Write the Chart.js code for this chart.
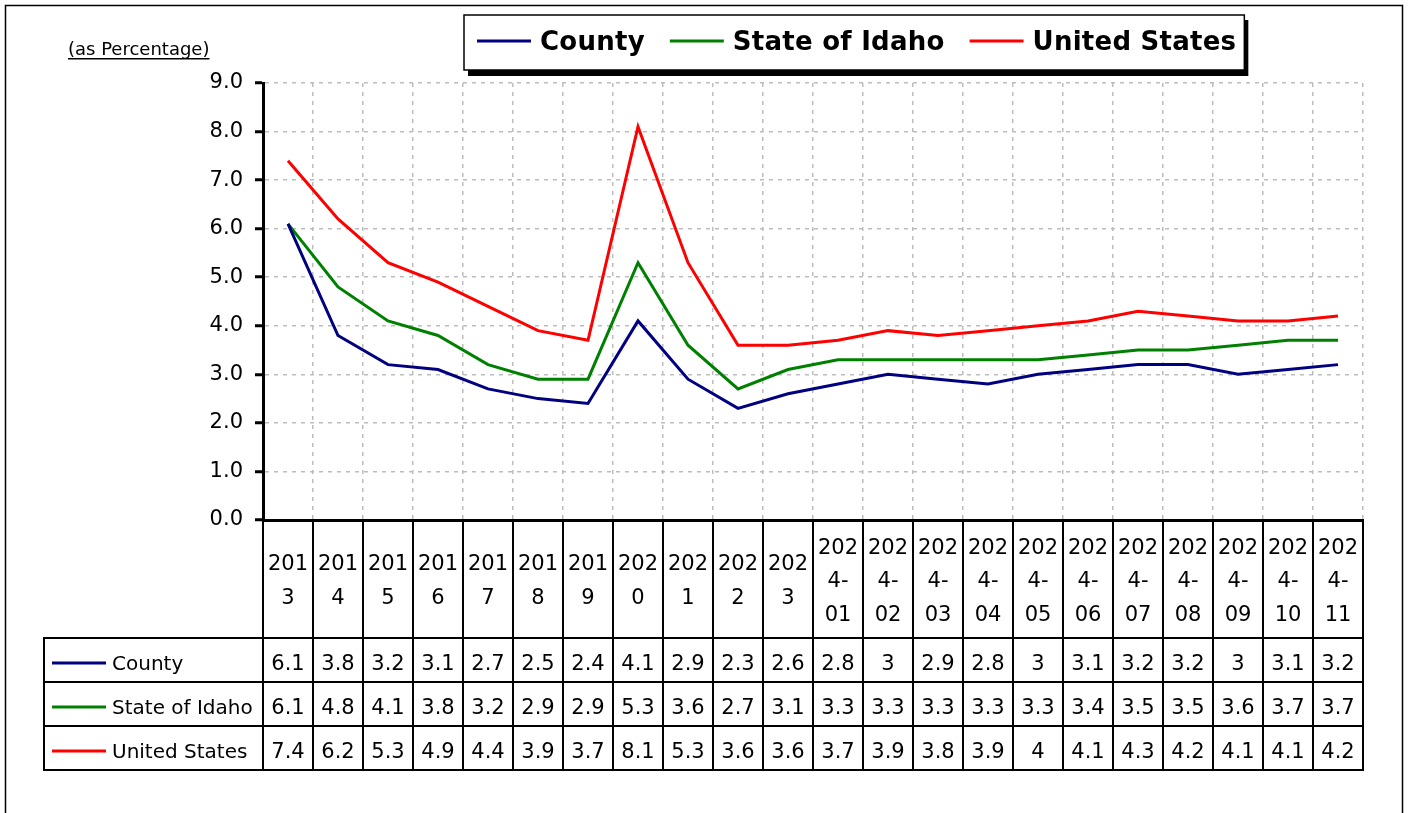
<!DOCTYPE html>
<html><head><meta charset="utf-8">
<script src="https://cdn.jsdelivr.net/npm/chart.js@4"></script>
<style>html,body{margin:0;padding:0;background:#fff}#wrap{width:1411px;height:813px;position:relative}</style>
</head><body><div id="wrap"><canvas id="c" width="1411" height="813"></canvas></div>
<script>
const categories = ["2013","2014","2015","2016","2017","2018","2019","2020","2021","2022","2023",
  "2024-01","2024-02","2024-03","2024-04","2024-05","2024-06","2024-07","2024-08","2024-09","2024-10","2024-11"];
const countyValues = [6.1,3.8,3.2,3.1,2.7,2.5,2.4,4.1,2.9,2.3,2.6,2.8,3,2.9,2.8,3,3.1,3.2,3.2,3,3.1,3.2];
const idahoValues  = [6.1,4.8,4.1,3.8,3.2,2.9,2.9,5.3,3.6,2.7,3.1,3.3,3.3,3.3,3.3,3.3,3.4,3.5,3.5,3.6,3.7,3.7];
const usValues     = [7.4,6.2,5.3,4.9,4.4,3.9,3.7,8.1,5.3,3.6,3.6,3.7,3.9,3.8,3.9,4,4.1,4.3,4.2,4.1,4.1,4.2];
const seriesNames  = ["County","State of Idaho","United States"];
const seriesColors = ["#000080","#008000","#FF0000"];
const yMin = 0, yMax = 9, yStep = 1;
const yTitle = "(as Percentage)";

const FONT = "'DejaVu Sans', 'Liberation Sans', sans-serif";

function wrapLabel(c) {
  const parts = [c.slice(0, 3)];
  const rest = c.slice(3);
  const k = rest.indexOf('-');
  if (k >= 0) { parts.push(rest.slice(0, k + 1)); parts.push(rest.slice(k + 1)); }
  else if (rest) parts.push(rest);
  return parts;
}

const decorPlugin = {
  id: 'decor',
  beforeDraw(chart) {
    const ctx = chart.ctx;
    ctx.save();
    ctx.fillStyle = '#fff';
    ctx.fillRect(0, 0, chart.width, chart.height);
    ctx.strokeStyle = '#000';
    ctx.lineWidth = 1.5;
    ctx.strokeRect(5.5, 5.5, 1397, 900);
    ctx.restore();
  },
  afterDraw(chart) {
    const ctx = chart.ctx;
    const xs = chart.scales.x;
    const area = chart.chartArea;
    const n = categories.length;
    const w = xs.getPixelForValue(1) - xs.getPixelForValue(0);
    const left = xs.getPixelForValue(0) - w / 2;
    const right = left + n * w;
    const top = area.bottom;
    const headBottom = top + 118;
    const rowH = 44;
    const tableLeft = 44;
    const bottom = headBottom + rowH * 3;
    ctx.save();

    // y title
    ctx.fillStyle = '#000';
    ctx.font = '18px ' + FONT;
    ctx.textAlign = 'left';
    ctx.textBaseline = 'alphabetic';
    ctx.fillText(yTitle, 68, 55);
    const tw = ctx.measureText(yTitle).width;
    ctx.fillRect(68, 58, tw, 1.5);

    // legend box
    ctx.font = 'bold 26px ' + FONT;
    ctx.letterSpacing = '0.25px';
    let lx = 477;
    const items = chart.data.datasets.map(ds => {
      const it = { x: lx, label: ds.label, color: ds.borderColor, tw: ctx.measureText(ds.label).width };
      lx += 54 + 9 + it.tw + 25;
      return it;
    });
    const boxL = 464, boxT = 15, boxR = lx - 25 + 8, boxB = 70;
    ctx.fillStyle = '#000';
    ctx.fillRect(boxL + 4, boxT + 5, boxR - boxL, boxB - boxT + 1);
    ctx.fillStyle = '#fff';
    ctx.fillRect(boxL, boxT, boxR - boxL, boxB - boxT);
    ctx.strokeStyle = '#000';
    ctx.lineWidth = 1.5;
    ctx.strokeRect(boxL, boxT, boxR - boxL, boxB - boxT);
    items.forEach(it => {
      ctx.strokeStyle = it.color;
      ctx.lineWidth = 3;
      ctx.beginPath(); ctx.moveTo(it.x, 41); ctx.lineTo(it.x + 54, 41); ctx.stroke();
      ctx.fillStyle = '#000';
      ctx.textAlign = 'left';
      ctx.fillText(it.label, it.x + 63, 50);
    });
    ctx.letterSpacing = '0px';

    // table grid
    ctx.strokeStyle = '#000';
    ctx.lineWidth = 2;
    ctx.beginPath();
    for (let i = 0; i <= n; i++) {
      const x = Math.round(left + i * w);
      ctx.moveTo(x, top); ctx.lineTo(x, bottom);
    }
    ctx.moveTo(tableLeft, headBottom); ctx.lineTo(tableLeft, bottom);
    for (let r = 0; r <= 3; r++) {
      const y = headBottom + r * rowH;
      ctx.moveTo(tableLeft - 1, y); ctx.lineTo(right + 1, y);
    }
    ctx.moveTo(left, top); ctx.lineTo(right + 1, top);
    ctx.stroke();

    // header labels
    ctx.fillStyle = '#000';
    ctx.font = '21px ' + FONT;
    ctx.textAlign = 'center';
    ctx.textBaseline = 'alphabetic';
    categories.forEach((c, i) => {
      const parts = wrapLabel(c);
      const cx = xs.getPixelForValue(i);
      parts.forEach((p, j) => {
        const y = 587 + (j - (parts.length - 1) / 2) * 33.5;
        ctx.fillText(p, cx, y);
      });
    });

    // rows
    chart.data.datasets.forEach((ds, r) => {
      const rt = headBottom + r * rowH;
      ctx.strokeStyle = ds.borderColor;
      ctx.lineWidth = 3;
      ctx.beginPath(); ctx.moveTo(52, rt + 25); ctx.lineTo(106, rt + 25); ctx.stroke();
      ctx.fillStyle = '#000';
      ctx.font = '20px ' + FONT;
      ctx.textAlign = 'left';
      ctx.fillText(ds.label, 112, rt + 32);
      ctx.font = '21px ' + FONT;
      ctx.textAlign = 'center';
      ds.data.forEach((v, i) => {
        ctx.fillText(String(v), xs.getPixelForValue(i), rt + 32);
      });
    });
    ctx.restore();
  }
};

const seriesData = [countyValues, idahoValues, usValues];
new Chart(document.getElementById('c'), {
  type: 'line',
  data: {
    labels: categories,
    datasets: seriesData.map((d, k) => ({
      label: seriesNames[k],
      data: d,
      borderColor: seriesColors[k],
      backgroundColor: seriesColors[k],
      borderWidth: 3,
      pointRadius: 0,
      tension: 0,
      fill: false
    }))
  },
  options: {
    responsive: false,
    animation: false,
    devicePixelRatio: 1,
    layout: { padding: { top: 83, right: 48, left: 0, bottom: 0 } },
    plugins: { legend: { display: false }, tooltip: { enabled: false } },
    scales: {
      x: {
        offset: true,
        grid: { offset: true, color: '#bdbdbd', lineWidth: 1.5, drawTicks: false },
        border: { display: true, color: '#000', width: 3, dash: [4, 5] },
        ticks: { display: false },
        afterFit(s) { s.height = 293; }
      },
      y: {
        min: yMin, max: yMax,
        ticks: { stepSize: yStep, color: '#000', font: { family: FONT, size: 21 }, padding: 12,
                 callback: v => Number(v).toFixed(1) },
        grid: { color: '#bdbdbd', lineWidth: 1.5, tickLength: 8, tickColor: '#000', tickWidth: 3, tickBorderDash: [] },
        border: { display: true, color: '#000', width: 3, dash: [4, 5] },
        afterFit(s) { s.width = 263; }
      }
    }
  },
  plugins: [decorPlugin]
});
</script>
</body></html>
